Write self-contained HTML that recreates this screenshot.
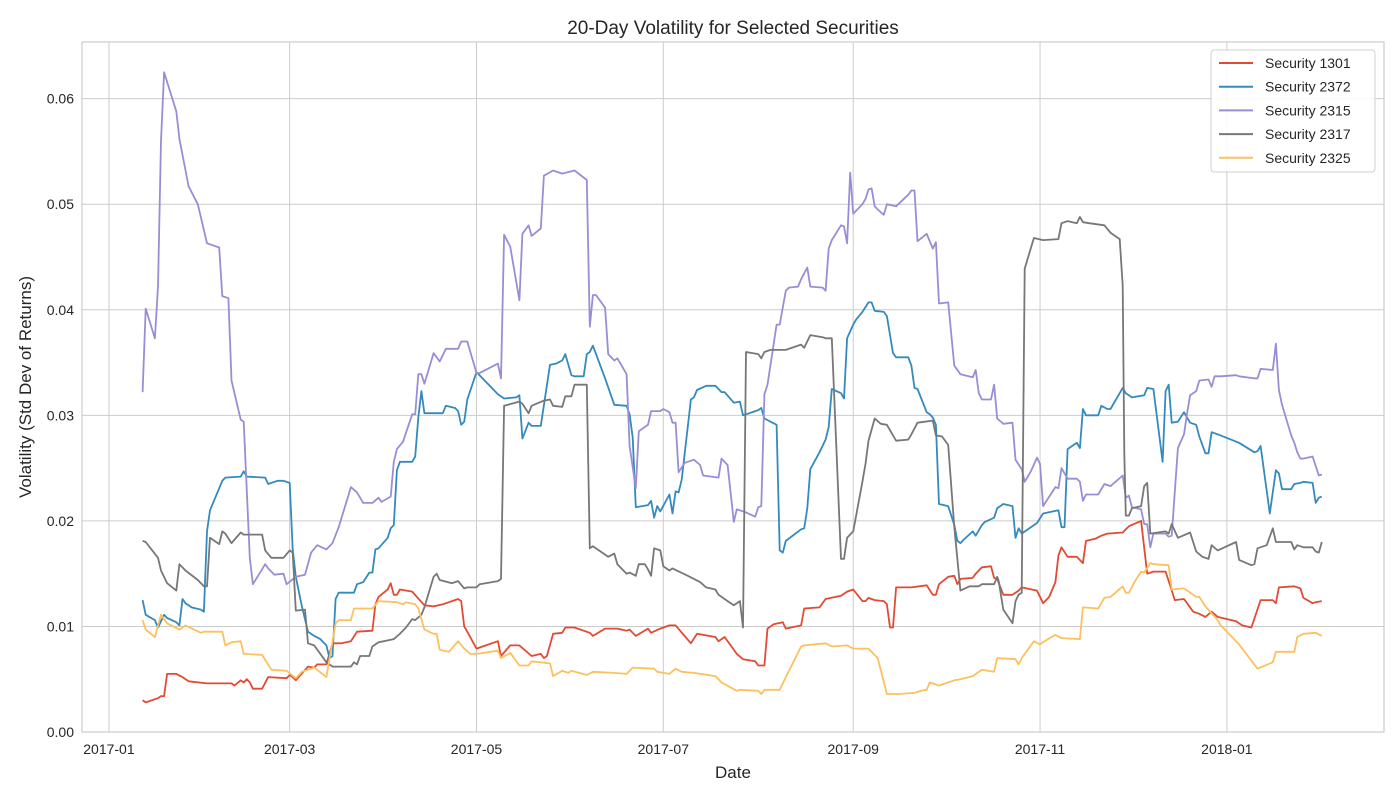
<!DOCTYPE html>
<html><head><meta charset="utf-8"><style>
body{margin:0;background:#fff;}
svg{display:block;font-family:"Liberation Sans",Arial,sans-serif;}
</style></head><body>
<svg id="chart" width="1400" height="800">
<rect x="0" y="0" width="1400" height="800" fill="#fff"/>
<g id="grid"></g>
<g id="series"></g>
<rect x="82" y="42" width="1302" height="690" fill="none" stroke="#cccccc" stroke-width="1.2"/>
<g id="axes"></g>
<text x="733" y="34" text-anchor="middle" font-size="19" fill="#262626">20-Day Volatility for Selected Securities</text>
<text x="733" y="778" text-anchor="middle" font-size="17" fill="#262626">Date</text>
<text transform="translate(31,387) rotate(-90)" text-anchor="middle" font-size="17" fill="#262626">Volatility (Std Dev of Returns)</text>
<g id="legend"></g>
</svg>
<script>
const names=["Security 1301","Security 2372","Security 2315","Security 2317","Security 2325"];
const colors=["#E24A33","#348ABD","#988ED5","#777777","#FBC15E"];
const yTicks=[0,0.01,0.02,0.03,0.04,0.05,0.06];
const yTickLabels=["0.00","0.01","0.02","0.03","0.04","0.05","0.06"];
const xTickDays=[0,59,120,181,243,304,365];
const xTickLabels=["2017-01","2017-03","2017-05","2017-07","2017-09","2017-11","2018-01"];
// days since 2017-01-01
const d1301=[11,12,16,17,18,19,22,24,26,32,40,41,43,44,45,46,47,50,52,58,59,60,61,65,67,68,71,73,76,79,81,86,87,88,91,92,93,94,95,99,103,106,109,114,115,116,117,120,127,128,131,134,138,141,142,143,145,148,149,152,157,158,162,166,169,170,172,176,177,180,183,185,190,192,198,199,201,205,207,211,212,214,215,217,220,221,226,227,232,234,239,241,243,246,247,248,250,253,254,255,256,257,262,267,269,270,271,274,276,277,278,282,283,285,288,289,290,292,295,297,298,303,305,307,309,310,311,313,316,318,319,322,324,326,331,333,337,339,341,345,346,348,351,354,356,358,360,362,368,370,373,376,380,381,382,387,389,390,393,394,396];
const v1301=[.0030,.0028,.0032,.0034,.0034,.0055,.0055,.0052,.0048,.0046,.0046,.0044,.0049,.0047,.0050,.0047,.0041,.0041,.0052,.0051,.0054,.0052,.0049,.0062,.0061,.0064,.0064,.0084,.0084,.0086,.0095,.0096,.0121,.0128,.0135,.0141,.0130,.0130,.0135,.0133,.0120,.0119,.0121,.0126,.0124,.0100,.0095,.0079,.0086,.0072,.0082,.0082,.0072,.0074,.0070,.0072,.0093,.0094,.0099,.0099,.0094,.0091,.0098,.0098,.0096,.0097,.0091,.0098,.0094,.0098,.0101,.0101,.0084,.0093,.0090,.0086,.0090,.0074,.0069,.0067,.0063,.0063,.0098,.0102,.0104,.0098,.0101,.0117,.0118,.0126,.0129,.0133,.0135,.0124,.0124,.0127,.0125,.0124,.0121,.0099,.0099,.0137,.0137,.0139,.0130,.0130,.0140,.0147,.0148,.0140,.0145,.0146,.0150,.0156,.0157,.0146,.0145,.0130,.0130,.0134,.0137,.0134,.0122,.0128,.0142,.0167,.0175,.0166,.0166,.0160,.0181,.0183,.0186,.0188,.0189,.0195,.0200,.0150,.0152,.0152,.0143,.0125,.0126,.0114,.0112,.0109,.0114,.0109,.0105,.0101,.0099,.0125,.0125,.0122,.0137,.0138,.0136,.0127,.0122,.0123,.0124];
const d2372=[11,12,15,16,18,19,22,23,24,25,27,30,31,32,33,37,38,43,44,45,51,52,55,57,59,60,61,63,65,67,69,71,72,73,74,75,80,81,83,85,86,87,88,91,92,93,94,95,99,100,101,102,103,109,110,113,114,115,116,117,120,127,129,133,134,135,137,138,141,144,146,148,149,151,152,155,156,157,158,162,165,169,170,171,172,176,177,178,179,180,183,184,185,186,187,190,191,192,195,198,200,201,204,206,207,212,213,214,218,219,220,221,226,227,228,229,232,234,235,236,239,240,241,243,244,246,248,249,250,253,254,256,257,261,262,263,264,267,268,269,270,271,274,276,277,278,279,282,283,285,286,289,290,292,295,296,297,298,303,305,310,311,312,313,316,317,318,319,323,324,326,327,331,332,333,334,338,339,341,344,345,346,347,349,351,353,355,356,358,359,360,362,369,374,375,376,379,381,382,383,386,387,389,390,393,394,395,396];
const v2372=[.0125,.0111,.0106,.0099,.0111,.0108,.0104,.0101,.0126,.0122,.0118,.0116,.0114,.0190,.0210,.0238,.0241,.0242,.0247,.0242,.0241,.0235,.0238,.0238,.0236,.0173,.0147,.0119,.0095,.0091,.0088,.0082,.0070,.0072,.0126,.0132,.0132,.0140,.0142,.0151,.0151,.0173,.0174,.0184,.0193,.0196,.0248,.0256,.0256,.0261,.0298,.0323,.0302,.0302,.0309,.0307,.0304,.0291,.0294,.0315,.0341,.0320,.0316,.0317,.0319,.0278,.0293,.0290,.0290,.0348,.0349,.0352,.0358,.0338,.0337,.0337,.0358,.0360,.0366,.0335,.0310,.0309,.0301,.0279,.0213,.0215,.0219,.0203,.0214,.0209,.0225,.0207,.0228,.0227,.0239,.0315,.0317,.0324,.0328,.0328,.0322,.0322,.0312,.0313,.0300,.0305,.0307,.0297,.0291,.0172,.0170,.0181,.0192,.0193,.0212,.0249,.0265,.0277,.0289,.0325,.0321,.0316,.0373,.0386,.0391,.0398,.0407,.0407,.0399,.0398,.0394,.0359,.0355,.0355,.0347,.0326,.0325,.0303,.0301,.0298,.0291,.0216,.0214,.0196,.0181,.0179,.0182,.0190,.0186,.0196,.0199,.0203,.0212,.0216,.0214,.0184,.0193,.0188,.0198,.0207,.0210,.0194,.0194,.0268,.0274,.0269,.0306,.0300,.0300,.0309,.0306,.0306,.0326,.0321,.0319,.0317,.0319,.0326,.0325,.0256,.0323,.0329,.0293,.0294,.0303,.0293,.0291,.0280,.0264,.0264,.0284,.0282,.0274,.0265,.0266,.0271,.0207,.0248,.0245,.0230,.0230,.0235,.0236,.0237,.0236,.0217,.0222,.0223];
const d2315=[11,12,15,16,17,18,22,23,26,29,32,36,37,39,40,43,44,46,47,51,52,54,57,58,61,64,66,68,71,73,75,79,81,83,86,88,89,92,93,94,96,99,100,101,102,103,106,108,110,114,115,117,120,121,127,128,129,131,134,135,137,138,141,142,145,148,152,156,157,158,159,162,163,165,166,169,170,172,173,176,177,180,181,183,184,185,186,188,191,193,194,199,200,202,204,205,208,211,212,213,214,215,218,219,221,222,225,226,228,229,233,234,235,236,239,240,241,242,243,246,247,248,249,250,251,253,254,257,261,262,263,264,267,269,270,271,274,276,278,282,283,284,285,288,289,290,292,295,296,298,299,301,303,304,305,309,310,311,313,316,317,318,319,321,323,325,327,331,332,333,334,337,338,339,340,341,345,346,347,349,351,352,353,355,356,359,360,361,363,368,369,374,375,376,380,381,382,383,386,387,388,389,390,393,394,395,396];
const v2315=[.0322,.0401,.0373,.0422,.0560,.0625,.0588,.0562,.0517,.0500,.0463,.0459,.0413,.0411,.0333,.0296,.0294,.0165,.0140,.0159,.0155,.0149,.0150,.0140,.0147,.0149,.0170,.0177,.0173,.0179,.0194,.0232,.0227,.0217,.0217,.0222,.0218,.0223,.0256,.0268,.0275,.0301,.0301,.0339,.0339,.0330,.0359,.0351,.0363,.0363,.0370,.0370,.0340,.0340,.0349,.0335,.0471,.0460,.0409,.0472,.0480,.0470,.0477,.0527,.0532,.0529,.0532,.0523,.0384,.0414,.0414,.0402,.0358,.0352,.0354,.0339,.0271,.0231,.0285,.0291,.0304,.0304,.0306,.0303,.0293,.0293,.0246,.0255,.0258,.0253,.0243,.0241,.0259,.0253,.0199,.0211,.0208,.0204,.0213,.0214,.0320,.0329,.0386,.0386,.0418,.0421,.0422,.0429,.0440,.0422,.0421,.0418,.0458,.0466,.0480,.0479,.0463,.0530,.0491,.0500,.0505,.0514,.0515,.0498,.0495,.0490,.0500,.0498,.0509,.0513,.0513,.0465,.0472,.0458,.0464,.0406,.0407,.0347,.0339,.0336,.0343,.0321,.0315,.0315,.0329,.0297,.0292,.0293,.0258,.0249,.0237,.0247,.0260,.0254,.0214,.0232,.0231,.0250,.0240,.0240,.0237,.0219,.0225,.0225,.0225,.0235,.0233,.0243,.0222,.0224,.0213,.0211,.0197,.0197,.0175,.0188,.0188,.0185,.0186,.0269,.0282,.0302,.0319,.0323,.0333,.0334,.0327,.0337,.0337,.0338,.0337,.0335,.0335,.0344,.0343,.0368,.0324,.0310,.0281,.0274,.0265,.0259,.0259,.0261,.0252,.0243,.0244,.0242];
const d2317=[11,12,16,17,19,22,23,25,29,31,32,33,36,37,38,40,43,44,50,51,53,57,59,60,61,64,65,67,71,73,79,80,81,82,85,86,88,93,95,97,99,100,102,103,106,107,108,112,114,116,117,120,121,127,128,129,134,135,137,138,142,144,145,148,149,151,152,156,157,158,163,165,166,169,170,172,173,175,176,177,178,180,181,183,184,189,193,195,198,199,202,204,206,207,208,212,213,214,216,221,226,227,229,233,234,236,239,240,241,243,246,247,248,250,252,254,256,257,261,262,264,269,270,272,274,276,278,281,284,285,289,290,290.5,292,295,296,297,298,299,302,305,310,311,313,316,317,318,320,325,327,330,331,331.5,332,333,334,337,338,339,340,345,346,347,349,353,355,357,359,360,362,368,369,373,374,375,378,380,381,382,386,387,388,390,393,394,395,396];
const v2317=[.0181,.0180,.0165,.0153,.0141,.0134,.0159,.0153,.0144,.0138,.0138,.0184,.0178,.0190,.0188,.0179,.0189,.0187,.0187,.0172,.0165,.0165,.0172,.0170,.0115,.0116,.0084,.0082,.0066,.0062,.0062,.0066,.0064,.0072,.0072,.0081,.0085,.0088,.0093,.0099,.0107,.0106,.0111,.0118,.0147,.0150,.0144,.0141,.0143,.0136,.0137,.0137,.0140,.0143,.0145,.0309,.0313,.0311,.0302,.0309,.0314,.0315,.0309,.0308,.0318,.0318,.0329,.0329,.0174,.0176,.0166,.0169,.0159,.0150,.0151,.0148,.0159,.0159,.0154,.0148,.0174,.0172,.0157,.0153,.0155,.0148,.0142,.0137,.0135,.0130,.0124,.0120,.0124,.0099,.0360,.0358,.0354,.0360,.0362,.0362,.0367,.0364,.0376,.0374,.0373,.0373,.0164,.0164,.0184,.0190,.0237,.0254,.0276,.0297,.0292,.0291,.0281,.0276,.0277,.0282,.0293,.0295,.0281,.0280,.0272,.0194,.0134,.0138,.0138,.0140,.0140,.0147,.0143,.0116,.0103,.0124,.0130,.0132,.0439,.0468,.0466,.0467,.0482,.0484,.0482,.0488,.0483,.0482,.0480,.0473,.0467,.0423,.0264,.0205,.0205,.0212,.0214,.0233,.0236,.0188,.0190,.0188,.0197,.0184,.0189,.0171,.0166,.0164,.0177,.0172,.0180,.0163,.0158,.0159,.0174,.0177,.0193,.0180,.0180,.0180,.0173,.0177,.0175,.0175,.0171,.0170,.0180];
const d2325=[11,12,15,17,19,23,25,30,31,37,38,40,43,44,50,53,58,61,63,67,71,74,75,79,80,86,88,94,96,97,100,101,103,106,107,108,111,114,116,118,120,127,128,131,134,137,138,144,145,148,150,151,156,158,165,169,171,178,179,183,185,187,191,198,200,205,206,212,213,214,219,221,226,227,234,236,241,243,248,251,254,258,263,265,267,268,269,271,276,278,282,285,289,290,296,297,298,302,304,306,309,311,317,318,323,325,327,331,332,333,335,337,338,340,341,346,347,351,355,356,358,362,363,369,375,380,381,387,388,390,394,396];
const v2325=[.0106,.0097,.0090,.0111,.0103,.0097,.0101,.0094,.0095,.0095,.0082,.0085,.0086,.0074,.0073,.0059,.0058,.0051,.0057,.0061,.0052,.0103,.0106,.0106,.0117,.0117,.0124,.0123,.0121,.0123,.0121,.0117,.0097,.0093,.0093,.0078,.0076,.0086,.0079,.0074,.0074,.0077,.0070,.0075,.0063,.0063,.0067,.0065,.0053,.0058,.0056,.0058,.0054,.0057,.0056,.0055,.0061,.0060,.0057,.0055,.0060,.0057,.0056,.0053,.0047,.0039,.0040,.0039,.0036,.0040,.0040,.0052,.0081,.0082,.0084,.0081,.0082,.0079,.0079,.0070,.0036,.0036,.0037,.0039,.0040,.0047,.0046,.0044,.0049,.0050,.0053,.0059,.0057,.0070,.0069,.0064,.0070,.0086,.0083,.0087,.0092,.0089,.0088,.0118,.0117,.0127,.0128,.0138,.0132,.0132,.0143,.0152,.0151,.0160,.0159,.0158,.0135,.0136,.0128,.0128,.0119,.0106,.0101,.0083,.0060,.0066,.0076,.0076,.0090,.0093,.0094,.0091];

const L=82,R=1384,T=42,B=732,dMin=-8.8,dMax=416.3,vMax=0.06537;
function xS(d){return L+(d-dMin)/(dMax-dMin)*(R-L);}
function yS(v){return B-v/vMax*(B-T);}
const NS="http://www.w3.org/2000/svg";
function mk(tag,attrs,parent){const e=document.createElementNS(NS,tag);for(const k in attrs)e.setAttribute(k,attrs[k]);parent.appendChild(e);return e;}
const grid=document.getElementById('grid'),axes=document.getElementById('axes');
yTicks.forEach((t,i)=>{
  const g=mk('line',{x1:L,x2:R,y1:yS(t),y2:yS(t),stroke:'#cccccc','stroke-width':1},grid);
  
  
  const tx=mk('text',{x:L-8,y:yS(t)+5,'text-anchor':'end','font-size':14,fill:'#262626'},axes);
  tx.textContent=yTickLabels[i];
  
  
});
xTickDays.forEach((t,i)=>{
  const g=mk('line',{x1:xS(t),x2:xS(t),y1:T,y2:B,stroke:'#cccccc','stroke-width':1},grid);
  
  
  const tx=mk('text',{x:xS(t),y:B+22,'text-anchor':'middle','font-size':14,fill:'#262626'},axes);
  tx.textContent=xTickLabels[i];
  
  
});
const allD=[d1301,d2372,d2315,d2317,d2325],allV=[v1301,v2372,v2315,v2317,v2325];
const sg=document.getElementById('series');
allD.forEach((ds,k)=>{
  const pts=ds.map((d,i)=>xS(d).toFixed(1)+','+yS(allV[k][i]).toFixed(1)).join(' ');
  const p=mk('polyline',{points:pts,fill:'none',stroke:colors[k],'stroke-width':1.8,'stroke-linejoin':'round'},sg);
  
  
});
const lg=document.getElementById('legend');
const box=mk('rect',{x:1211,y:50,width:164,height:122,rx:3,fill:'#fff',stroke:'#cccccc','stroke-width':1,opacity:0.9},lg);


names.forEach((n,k)=>{
  const y=63+k*23.7;
  const ln=mk('line',{x1:1219,x2:1253,y1:y,y2:y,stroke:colors[k],'stroke-width':2},lg);
  
  
  const tx=mk('text',{x:1265,y:y+5,'font-size':14,fill:'#262626'},lg);
  tx.textContent=n;
  
  
});
</script>
</body></html>
